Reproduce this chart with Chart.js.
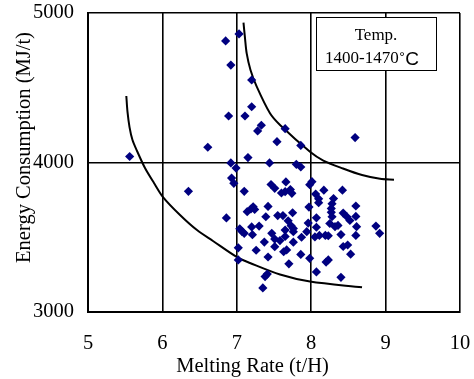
<!DOCTYPE html>
<html>
<head>
<meta charset="utf-8">
<script src="https://cdn.jsdelivr.net/npm/chart.js@4.4.1/dist/chart.umd.min.js"></script>
<style>
  html, body { margin: 0; padding: 0; background: #fff; }
  #wrap { width: 474px; height: 379px; position: relative; }
</style>
</head>
<body>
<div id="wrap"><canvas id="myChart"></canvas></div>
<script>
// --- data ---
const meltRate = [
  5.56, 6.85, 7.03, 6.92, 7.20, 7.20, 6.89, 7.11, 7.33, 7.28,
  6.61, 7.54, 7.15, 6.92, 6.99, 7.44, 7.65, 7.86, 8.59, 7.80,
  7.86, 6.35, 6.93, 6.96, 7.10, 7.46, 7.51, 7.66, 7.60, 7.65,
  7.72, 7.74, 8.01, 7.98, 8.17, 8.42, 8.06, 8.10, 8.10, 8.30,
  8.28, 8.27, 8.27, 8.28, 7.97, 8.60, 7.14, 7.19, 7.24, 7.22,
  7.42, 6.86, 7.39, 7.55, 7.62, 7.75, 7.69, 7.73, 7.76, 7.76,
  7.04, 7.07, 7.10, 7.20, 7.30, 7.21, 7.47, 7.51, 7.58, 7.37,
  7.51, 7.63, 7.67, 7.76, 7.65, 7.65, 7.87, 7.96, 8.07, 7.94,
  8.07, 8.25, 8.32, 8.36, 8.43, 8.48, 8.52, 8.60, 8.61, 8.05,
  8.11, 8.19, 8.23, 8.40, 8.60, 8.87, 8.92, 7.02, 7.26, 7.42,
  7.86, 7.98, 8.43, 8.49, 8.53, 7.02, 7.70, 8.20, 8.23, 7.38,
  7.41, 8.07, 8.40, 7.35
];
const energy = [
  4040, 4813, 4860, 4652, 4552, 4373, 4311, 4311, 4249, 4211,
  4102, 4139, 4033, 3997, 3963, 3997, 4226, 4114, 4167, 3988,
  3970, 3807, 3896, 3861, 3807, 3853, 3827, 3870, 3796, 3805,
  3819, 3794, 3872, 3852, 3815, 3815, 3789, 3757, 3731, 3759,
  3724, 3693, 3667, 3637, 3702, 3709, 3671, 3689, 3686, 3704,
  3706, 3629, 3637, 3645, 3645, 3664, 3610, 3577, 3559, 3537,
  3557, 3538, 3526, 3569, 3575, 3517, 3526, 3488, 3478, 3468,
  3437, 3403, 3415, 3467, 3548, 3505, 3500, 3595, 3630, 3537,
  3567, 3592, 3571, 3579, 3662, 3637, 3612, 3639, 3571, 3502,
  3512, 3512, 3510, 3518, 3512, 3575, 3526, 3429, 3413, 3368,
  3385, 3359, 3438, 3448, 3387, 3348, 3322, 3334, 3348, 3237,
  3254, 3268, 3232, 3161
];

// upper and lower envelope curves
const upperX = [7.09, 7.11, 7.133, 7.184, 7.268, 7.446, 7.581, 7.984, 8.163, 8.427, 8.683, 8.925, 9.113];
const upperY = [4935, 4833, 4730, 4619, 4507, 4329, 4251, 4072, 4013, 3960, 3916, 3891, 3885];
const lowerX = [5.515, 5.531, 5.558, 5.598, 5.659, 5.766, 5.887, 6.008, 6.237, 6.465, 6.68, 7.009, 7.177, 7.581, 7.984, 8.683];
const lowerY = [4445, 4338, 4237, 4150, 4077, 3963, 3863, 3769, 3649, 3548, 3475, 3365, 3328, 3251, 3204, 3165];

const xTicks = [5, 6, 7, 8, 9, 10];
const yTicks = [3000, 4000, 5000];
const xTitle = 'Melting Rate (t/H)';
const yTitle = 'Energy Consumption (MJ/t)';
const boxTitle = 'Temp.';
const boxRange = '1400-1470';

const pts = (xs, ys) => xs.map((x, i) => ({ x: x, y: ys[i] }));
const serif = '"Liberation Serif", "Times New Roman", serif';
const sans = '"Liberation Sans", Arial, sans-serif';

// axis titles (placed off-centre like the original) and the text box
const extras = {
    id: 'extras',
    afterDraw(chart) {
        const ctx = chart.ctx;
        ctx.save();
        ctx.fillStyle = '#000';
        ctx.font = '20.5px ' + serif;
        ctx.textAlign = 'center';
        ctx.textBaseline = 'middle';
        ctx.fillText(xTitle, 252.5, 367);
        ctx.save();
        ctx.translate(25, 147.5);
        ctx.rotate(-Math.PI / 2);
        ctx.fillText(yTitle, 0, 0);
        ctx.restore();

        ctx.fillStyle = '#fff';
        ctx.fillRect(316.5, 17.5, 120, 53);
        ctx.strokeStyle = '#000';
        ctx.lineWidth = 1;
        ctx.strokeRect(316.5, 17.5, 120, 53);
        ctx.fillStyle = '#000';
        ctx.textBaseline = 'alphabetic';
        ctx.font = '17px ' + serif;
        ctx.fillText(boxTitle, 376, 40);
        // range line: digits in serif, degree sign small, C in sans
        ctx.textAlign = 'left';
        let x = 325;
        ctx.fillText(boxRange, x, 63);
        x += ctx.measureText(boxRange).width;
        ctx.font = '14px ' + sans;
        ctx.fillText('\u00B0', x + 0.5, 62);
        x += ctx.measureText('\u00B0').width + 1;
        ctx.font = '19px ' + sans;
        ctx.fillText('C', x, 65);
        ctx.restore();
    }
};

const noPad = (s) => { s.paddingTop = 0; s.paddingBottom = 0; s.paddingLeft = 0; s.paddingRight = 0; };

new Chart(document.getElementById('myChart'), {
    type: 'scatter',
    data: {
        datasets: [{
            data: pts(meltRate, energy),
            pointStyle: 'rectRot',
            pointRadius: 4.6,
            pointBorderWidth: 0,
            backgroundColor: '#000080',
            borderColor: '#000080'
        }, {
            data: pts(upperX, upperY),
            showLine: true,
            tension: 0.3,
            pointRadius: 0,
            borderColor: '#000',
            borderWidth: 2
        }, {
            data: pts(lowerX, lowerY),
            showLine: true,
            tension: 0.3,
            pointRadius: 0,
            borderColor: '#000',
            borderWidth: 2
        }]
    },
    options: {
        responsive: true,
        maintainAspectRatio: false,
        animation: false,
        layout: { padding: { left: 0, top: 13, right: 14, bottom: 0 } },
        plugins: {
            legend: { display: false },
            tooltip: { enabled: false }
        },
        scales: {
            x: {
                type: 'linear',
                min: 5,
                max: 10,
                afterBuildTicks: (s) => { s.ticks = xTicks.map(v => ({ value: v })); },
                afterFit: (s) => { s.height = 67; noPad(s); },
                grid: { color: '#000', lineWidth: 1.6, drawTicks: false },
                border: { color: '#000', width: 2 },
                ticks: { padding: 19, color: '#000', font: { family: serif, size: 20.5 } }
            },
            y: {
                min: 3000,
                max: 5000,
                afterBuildTicks: (s) => { s.ticks = yTicks.map(v => ({ value: v })); },
                afterFit: (s) => { s.width = 88; noPad(s); },
                grid: { color: '#000', lineWidth: 1.6, drawTicks: false },
                border: { color: '#000', width: 2 },
                ticks: {
                    padding: 14,
                    color: '#000',
                    font: { family: serif, size: 20.5 },
                    callback: (v) => String(v)
                }
            }
        }
    },
    plugins: [extras]
});
</script>
</body>
</html>
